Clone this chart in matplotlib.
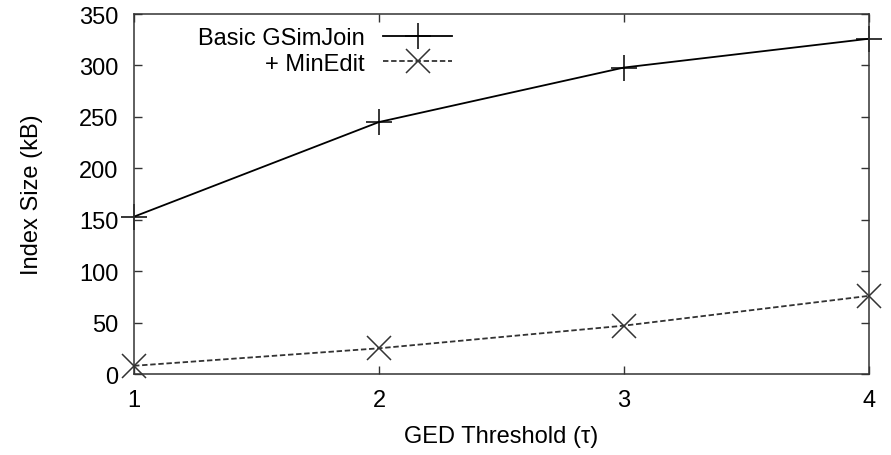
import matplotlib
matplotlib.use("Agg")
import matplotlib.pyplot as plt

plt.rcParams['font.family'] = ['Liberation Sans', 'DejaVu Sans']

thresholds = [1, 2, 3, 4]
basic_gsimjoin = [153, 245, 298, 326]
min_edit = [8, 25, 47, 76]
y_ticks = [0, 50, 100, 150, 200, 250, 300, 350]

fig = plt.figure(figsize=(8.91, 4.56), dpi=100)
ax = fig.add_axes([0.1504, 0.1776, 0.8249, 0.7894])

ax.plot(thresholds, basic_gsimjoin, color="black", lw=1.3, marker="+",
        markersize=19, markeredgewidth=1.1, clip_on=False, label="Basic GSimJoin")
ax.plot(thresholds, min_edit, color="#333333", lw=1.3, ls=(0, (3, 1.5)), marker="x",
        markersize=17, markeredgewidth=1.1, clip_on=False, label="+ MinEdit")

ax.set_xlim(1, 4)
ax.set_ylim(0, 350)
ax.set_xticks(thresholds)
ax.set_yticks(y_ticks)
ax.tick_params(direction="in", length=6, width=1, top=True, right=True,
               labelsize=17, color="#333333")
ax.tick_params(axis="x", pad=11)
ax.tick_params(axis="y", pad=11)
for s in ax.spines.values():
    s.set_color("#333333")
    s.set_linewidth(1.1)

ax.set_xlabel("GED Threshold (τ)", fontsize=17, labelpad=10)
ax.set_ylabel("Index Size (kB)", fontsize=17, labelpad=26)

ax.legend(loc="upper right", bbox_to_anchor=(0.455, 1.01), frameon=False,
          markerfirst=False, fontsize=17, handlelength=2.9, handletextpad=0.8,
          labelspacing=0.15, borderaxespad=0.3)

fig.savefig("out.png", dpi=100)
